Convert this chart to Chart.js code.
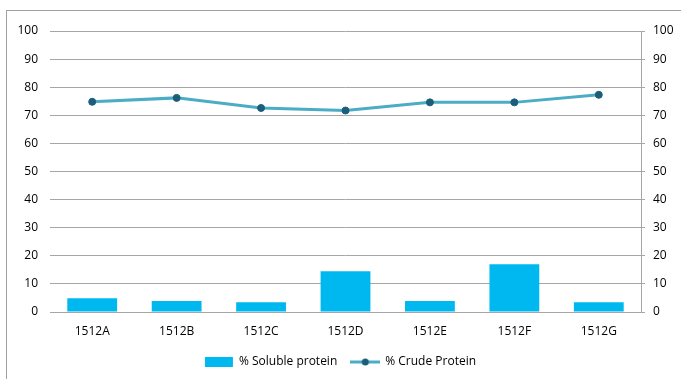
<!DOCTYPE html>
<html>
<head>
<meta charset="utf-8">
<script src="https://cdn.jsdelivr.net/npm/chart.js@4"></script>
<style>
  body { margin: 0; background: #fff; overflow: hidden; }
  #wrap { position: relative; width: 681px; height: 379px; }
  #frame { position: absolute; left: 6px; top: 10px; width: 700px; height: 400px; border: 1px solid #a0a0a0; }
  #myChart { position: absolute; left: 0; top: 0; }
</style>
</head>
<body>
<div id="wrap">
  <div id="frame"></div>
  <canvas id="myChart" width="681" height="379"></canvas>
</div>
<script>
var xValues = ["1512A", "1512B", "1512C", "1512D", "1512E", "1512F", "1512G"];
var solubleValues = [4.9, 3.9, 3.5, 14.5, 3.9, 17.0, 3.5];
var crudeValues = [74.8, 76.2, 72.6, 71.7, 74.6, 74.6, 77.3];
var tickValues = [0, 10, 20, 30, 40, 50, 60, 70, 80, 90, 100];

var gridColor = "#a6a6a6";
var fontFamily = "'Open Sans', 'Liberation Sans', sans-serif";

// legend icon for the line series: short line with a dot
var lineIcon = document.createElement("canvas");
lineIcon.width = 30;
lineIcon.height = 10;
(function () {
  var c = lineIcon.getContext("2d");
  c.strokeStyle = "#4bacc6";
  c.lineWidth = 3;
  c.beginPath();
  c.moveTo(0, 5);
  c.lineTo(30, 5);
  c.stroke();
  c.fillStyle = "#1b5e7a";
  c.beginPath();
  c.arc(15, 5, 3.5, 0, Math.PI * 2);
  c.fill();
})();

Chart.defaults.font.family = fontFamily;
Chart.defaults.font.size = 12;
Chart.defaults.color = "#000";

var ctx = document.getElementById('myChart').getContext('2d');
new Chart(ctx, {
  data: {
    labels: xValues,
    datasets: [{
      type: "bar",
      label: "% Soluble protein",
      data: solubleValues,
      backgroundColor: "#00b8f0",
      barPercentage: 0.59,
      categoryPercentage: 1.0,
      yAxisID: "y"
    }, {
      type: "line",
      label: "% Crude Protein",
      data: crudeValues,
      borderColor: "#4bacc6",
      borderWidth: 3,
      pointRadius: 3.5,
      pointBackgroundColor: "#1b5e7a",
      pointBorderColor: "#1b5e7a",
      pointBorderWidth: 1,
      tension: 0,
      yAxisID: "y1"
    }]
  },
  options: {
    responsive: false,
    animation: false,
    layout: { padding: { top: 31, left: 0, right: 0, bottom: 1 } },
    plugins: {
      tooltip: { enabled: false },
      legend: {
        position: "bottom",
        labels: {
          usePointStyle: true,
          pointStyleWidth: 28,
          boxHeight: 10,
          padding: 14,
          color: "#000",
          font: { size: 12 },
          generateLabels: function (chart) {
            var items = Chart.defaults.plugins.legend.labels.generateLabels(chart);
            items[0].pointStyle = "rect";
            items[0].lineWidth = 0;
            items[1].pointStyle = lineIcon;
            return items;
          }
        }
      }
    },
    scales: {
      x: {
        grid: { display: false, drawTicks: false },
        border: { display: true, color: gridColor },
        ticks: { padding: 12 },
        afterFit: function (s) { s.height = 30; }
      },
      y: {
        position: "left",
        min: 0, max: 100,
        afterBuildTicks: function (s) { s.ticks = tickValues.map(function (v) { return { value: v }; }); },
        grid: { color: gridColor, drawTicks: false },
        border: { display: false },
        ticks: { padding: 12 },
        afterFit: function (s) { s.width = 50; }
      },
      y1: {
        position: "right",
        min: 0, max: 100,
        afterBuildTicks: function (s) { s.ticks = tickValues.map(function (v) { return { value: v }; }); },
        grid: { color: gridColor, drawOnChartArea: false, tickLength: 4 },
        border: { display: true, color: gridColor },
        ticks: { padding: 8 },
        afterFit: function (s) { s.width = 40; }
      }
    }
  }
});
</script>
</body>
</html>
